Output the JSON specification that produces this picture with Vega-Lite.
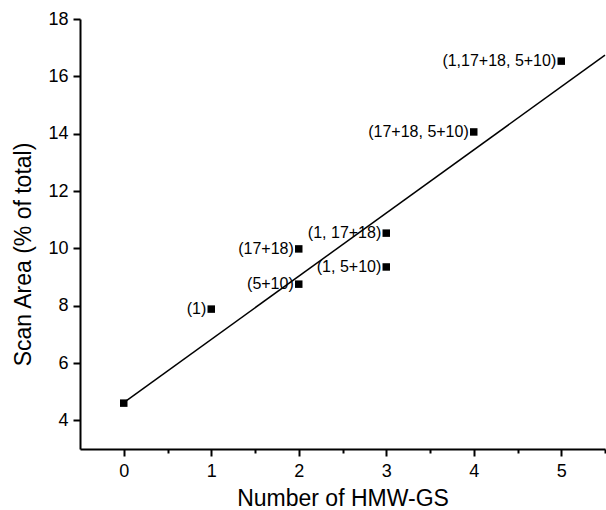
{
  "$schema": "https://vega.github.io/schema/vega-lite/v6.json",
  "width": 525,
  "height": 430,
  "autosize": "none",
  "padding": {"left": 80, "top": 19, "right": 1, "bottom": 61},
  "background": "white",
  "config": {
    "font": "Liberation Sans",
    "view": {"stroke": null},
    "axis": {"grid": false, "domainColor": "black", "tickColor": "black", "labelColor": "black", "titleColor": "black", "titleFontWeight": "normal", "labelOverlap": false}
  },
  "datasets": {
    "points": [
      {"n": 0, "area": 4.6, "label": ""},
      {"n": 1, "area": 7.88, "label": "(1)"},
      {"n": 2, "area": 9.98, "label": "(17+18)"},
      {"n": 2, "area": 8.75, "label": "(5+10)"},
      {"n": 3, "area": 10.53, "label": "(1, 17+18)"},
      {"n": 3, "area": 9.35, "label": "(1, 5+10)"},
      {"n": 4, "area": 14.06, "label": "(17+18, 5+10)"},
      {"n": 5, "area": 16.53, "label": "(1,17+18, 5+10)"}
    ],
    "fit": [
      {"n": 0, "area": 4.62},
      {"n": 5.5, "area": 16.74}
    ]
  },
  "layer": [
    {
      "data": {"name": "fit"},
      "mark": {"type": "line", "color": "black", "strokeWidth": 1.5},
      "encoding": {
        "x": {
          "field": "n", "type": "quantitative",
          "scale": {"domain": [-0.5, 5.5], "nice": false, "zero": false},
          "axis": {
            "orient": "bottom", "values": [0, 0.5, 1, 1.5, 2, 2.5, 3, 3.5, 4, 4.5, 5, 5.5],
            "labelExpr": "datum.value % 1 !== 0 ? '' : format(datum.value, 'd')",
            "tickSize": {"condition": {"test": "datum.value % 1 !== 0", "value": 4}, "value": 7},
            "tickWidth": 2, "domainWidth": 2,
            "labelFontSize": 18, "labelPadding": 6,
            "title": "Number of HMW-GS", "titleFontSize": 23, "titlePadding": 7
          }
        },
        "y": {
          "field": "area", "type": "quantitative",
          "scale": {"domain": [3, 18], "nice": false, "zero": false},
          "axis": {
            "orient": "left", "values": [4, 5, 6, 7, 8, 9, 10, 11, 12, 13, 14, 15, 16, 17, 18],
            "labelExpr": "datum.value % 2 !== 0 ? '' : format(datum.value, 'd')",
            "tickSize": {"condition": {"test": "datum.value % 2 !== 0", "value": 4}, "value": 7},
            "tickWidth": 2, "domainWidth": 2,
            "labelFontSize": 18, "labelPadding": 5,
            "title": "Scan Area (% of total)", "titleFontSize": 23, "titlePadding": 12, "titleY": 235
          }
        }
      }
    },
    {
      "data": {"name": "points"},
      "mark": {"type": "square", "color": "black", "filled": true, "opacity": 1, "size": 56},
      "encoding": {
        "x": {"field": "n", "type": "quantitative"},
        "y": {"field": "area", "type": "quantitative"}
      }
    },
    {
      "data": {"name": "points"},
      "mark": {"type": "text", "align": "right", "baseline": "middle", "dx": -5, "fontSize": 16, "color": "black"},
      "encoding": {
        "x": {"field": "n", "type": "quantitative"},
        "y": {"field": "area", "type": "quantitative"},
        "text": {"field": "label"}
      }
    }
  ]
}
